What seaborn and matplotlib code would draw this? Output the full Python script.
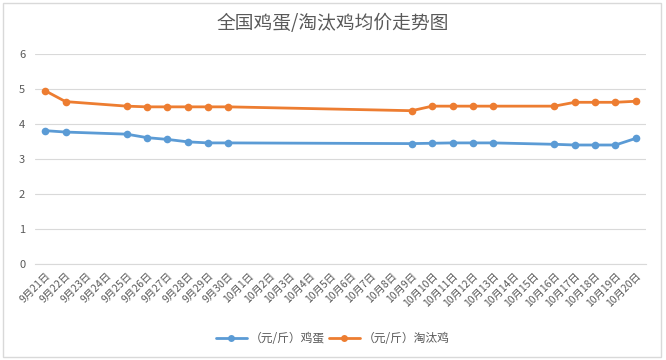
import numpy as np
import pandas as pd
import matplotlib
matplotlib.use("Agg")
import matplotlib.pyplot as plt
import seaborn as sns
from matplotlib.patches import Rectangle
from matplotlib.lines import Line2D

categories = [f"9月{d}日" for d in range(21, 31)] + [f"10月{d}日" for d in range(1, 21)]

egg_dates = ["9月21日", "9月22日", "9月25日", "9月26日", "9月27日", "9月28日", "9月29日", "9月30日",
             "10月9日", "10月10日", "10月11日", "10月12日", "10月13日",
             "10月16日", "10月17日", "10月18日", "10月19日", "10月20日"]
egg_values = [3.81, 3.77, 3.71, 3.61, 3.56, 3.49, 3.46, 3.46,
              3.44, 3.45, 3.46, 3.46, 3.46,
              3.42, 3.40, 3.40, 3.40, 3.59]
hen_values = [4.95, 4.64, 4.51, 4.49, 4.49, 4.49, 4.49, 4.49,
              4.38, 4.51, 4.51, 4.51, 4.51,
              4.51, 4.62, 4.62, 4.62, 4.65]

series_names = ["（元/斤）鸡蛋", "（元/斤）淘汰鸡"]
title = "全国鸡蛋/淘汰鸡均价走势图"
yticks = [0, 1, 2, 3, 4, 5, 6]

sns.set_theme(style="white")
plt.rcParams['font.family'] = ['Noto Sans CJK SC', 'DejaVu Sans']

pos = {c: i for i, c in enumerate(categories)}
df = pd.DataFrame({
    "x": [pos[d] for d in egg_dates] * 2,
    "value": egg_values + hen_values,
    "series": [series_names[0]] * len(egg_dates) + [series_names[1]] * len(egg_dates),
})

fig = plt.figure(figsize=(6.66, 3.6), dpi=100)
ax = fig.add_axes([35/666, 1-264/360, (646-35)/666, (264-54)/360])

palette = {series_names[0]: "#5B9BD5", series_names[1]: "#ED7D31"}
sns.lineplot(data=df, x="x", y="value", hue="series", palette=palette,
             marker="o", markersize=5.5, markeredgewidth=0, linewidth=2.0,
             ax=ax, legend=False)

ax.set_xlim(-0.5, len(categories) - 0.5)
ax.set_ylim(0, 6)
ax.set_yticks(yticks)
ax.set_yticklabels([str(t) for t in yticks])
ax.set_xticks(range(len(categories)))
ax.set_xticklabels(categories, rotation=45, ha="right", rotation_mode="anchor",
                   fontsize=7.5, color="#595959")
ax.set_xticks(np.arange(-0.5, len(categories), 1), minor=True)
ax.tick_params(axis="x", which="major", length=0, pad=5)
ax.tick_params(axis="x", which="minor", length=3, color="#d9d9d9", width=0.8, direction="out")
ax.tick_params(axis="y", length=0, labelsize=8, labelcolor="#595959", pad=7)
ax.set_xlabel("")
ax.set_ylabel("")
ax.grid(axis="y", color="#d9d9d9", linewidth=0.8)
ax.set_axisbelow(True)
for s in ["top", "right", "left"]:
    ax.spines[s].set_visible(False)
ax.spines["bottom"].set_color("#d9d9d9")
ax.spines["bottom"].set_linewidth(0.8)

handles = [Line2D([], [], color=palette[n], marker="o", markersize=5, markeredgewidth=0, linewidth=2.0)
           for n in series_names]
fig.legend(handles, series_names, loc="center", bbox_to_anchor=(0.5, 1-339/360), ncol=2,
           frameon=False, fontsize=8.5, labelcolor="#595959", handlelength=2.6,
           columnspacing=0.3, handletextpad=0.3)

fig.text(0.5, 1-23/360, title, ha="center", va="center", fontsize=13.5, color="#595959")

fig.patches.append(Rectangle((3/666, 3/360), (661-3)/666, (357-3)/360, transform=fig.transFigure,
                             fill=False, edgecolor="#d9d9d9", linewidth=1))

fig.savefig("out.png", dpi=100)
